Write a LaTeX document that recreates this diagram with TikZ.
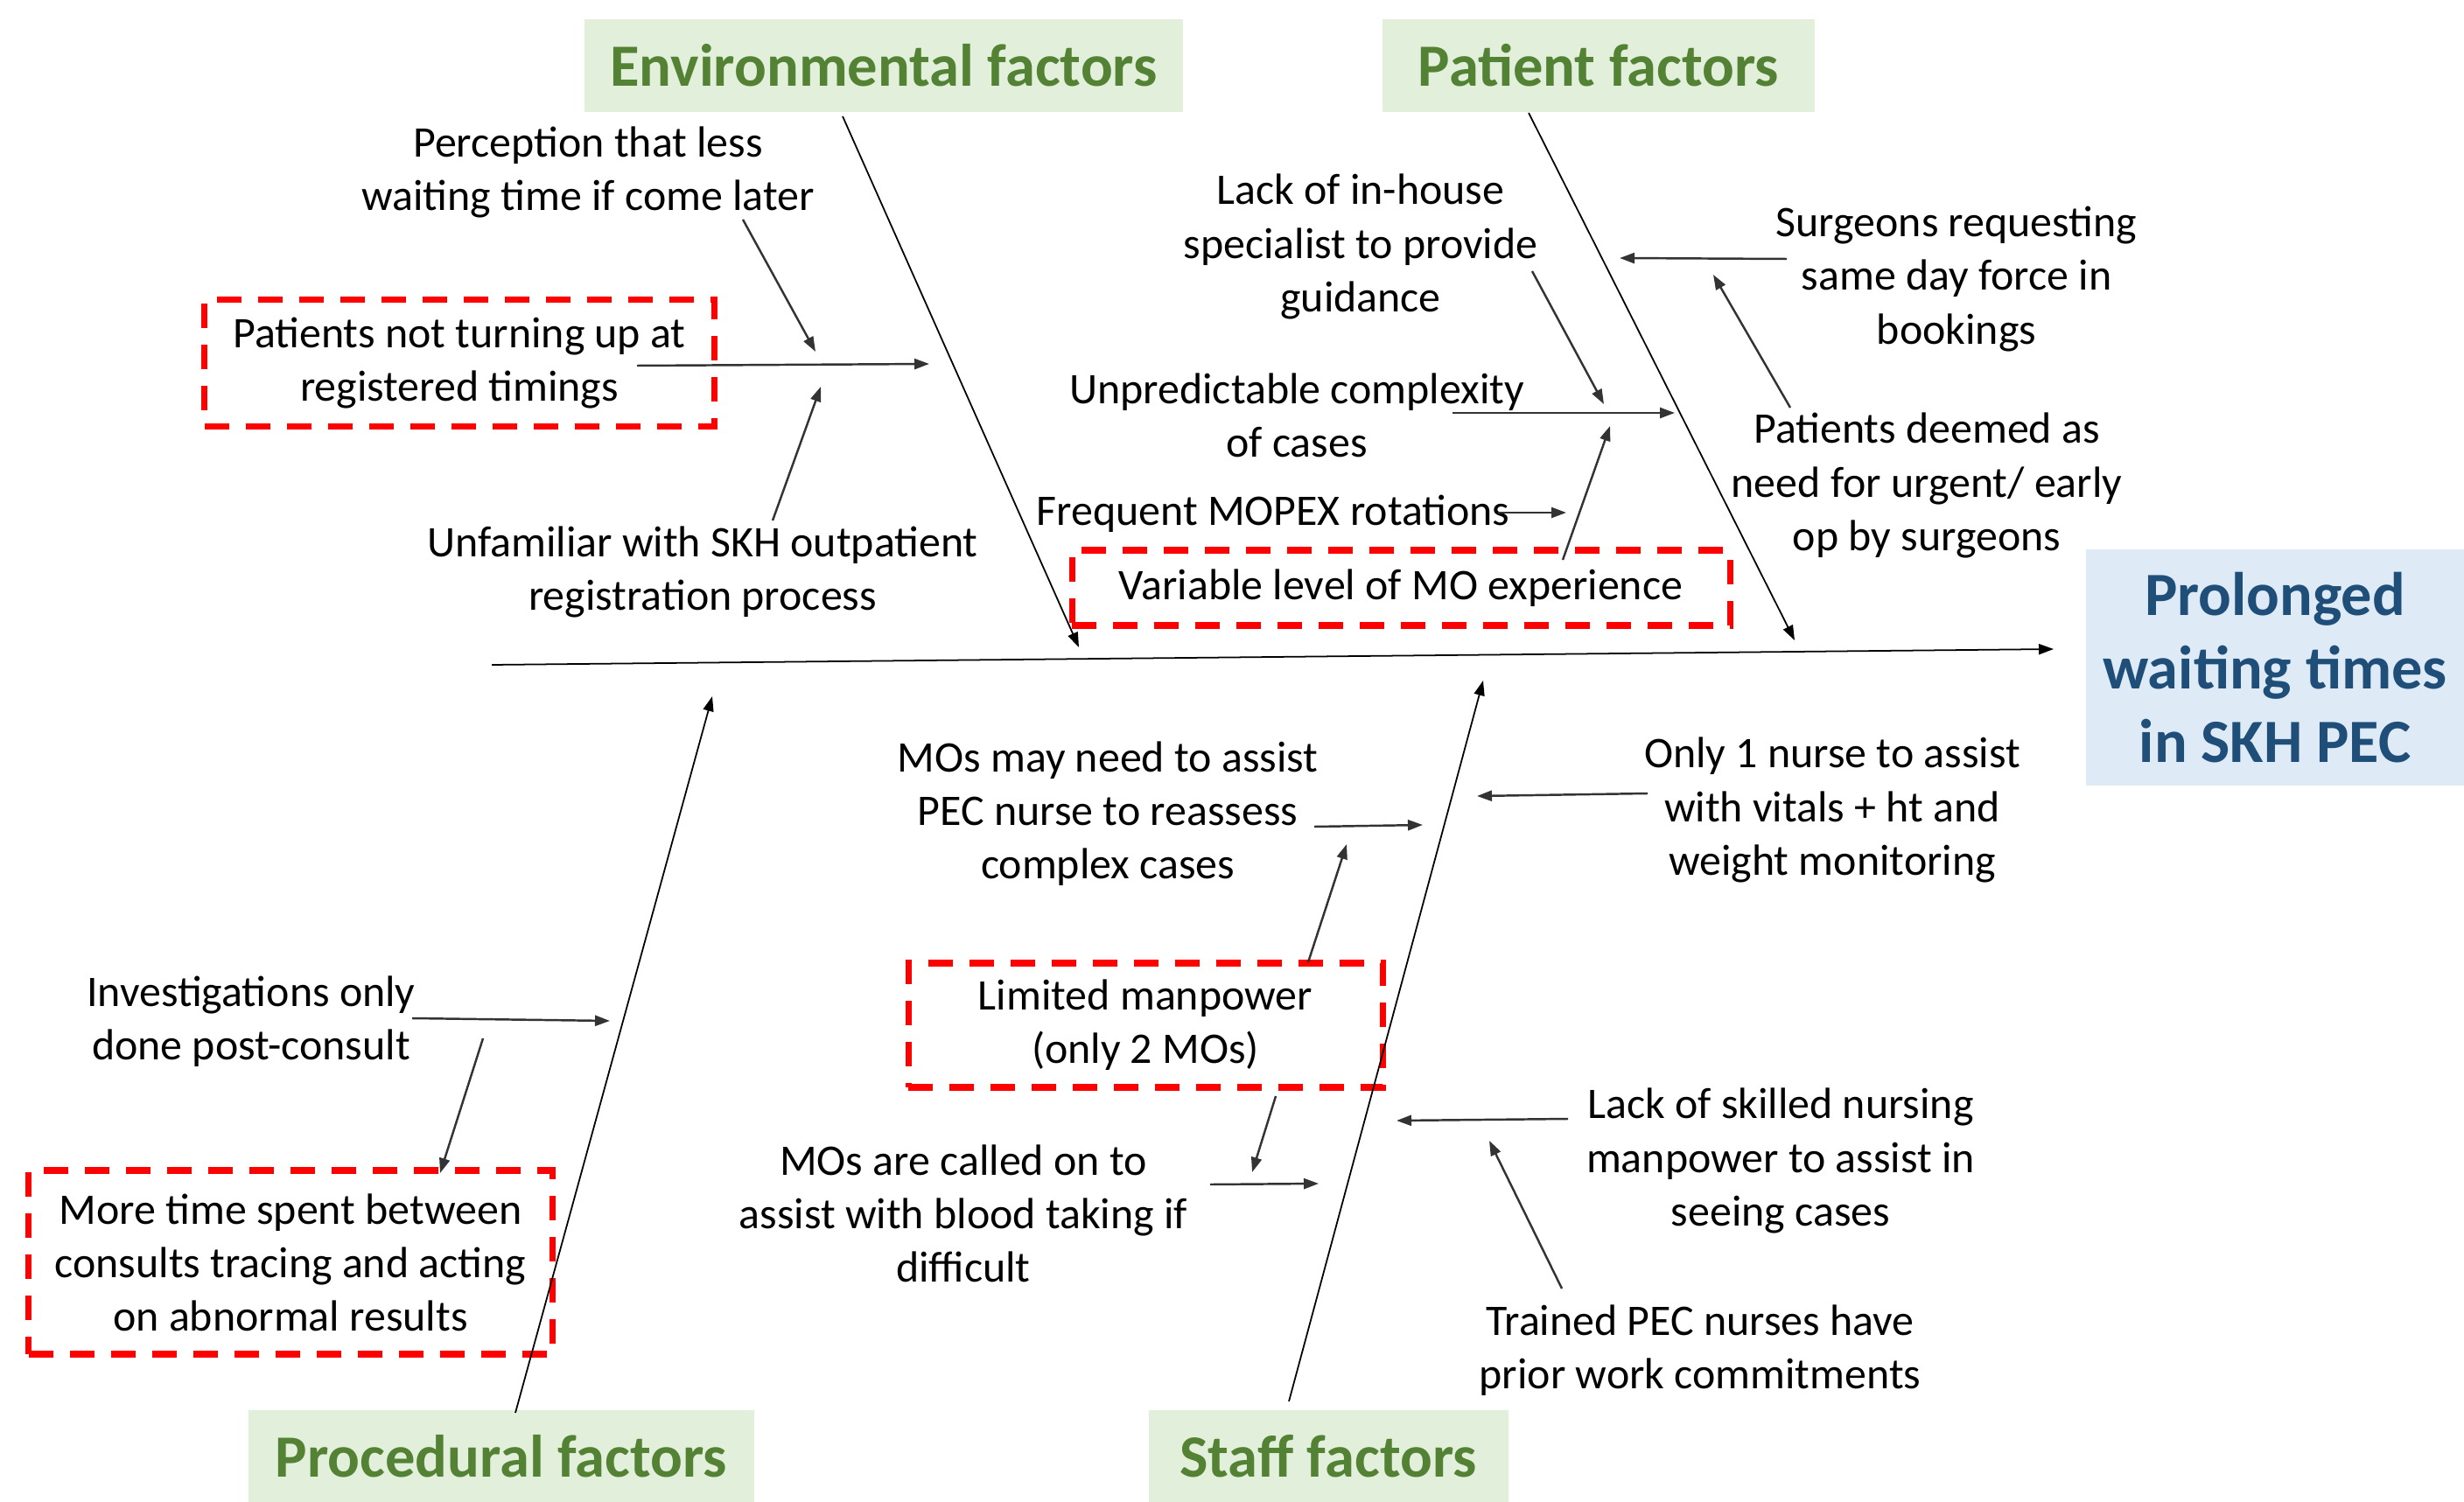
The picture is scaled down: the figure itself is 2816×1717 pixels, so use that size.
\documentclass[tikz,border=0pt]{standalone}
\usepackage{fontspec}
\setmainfont{Carlito}
\usetikzlibrary{arrows.meta}
\definecolor{hdrfill}{HTML}{E2EFDA}
\definecolor{hdrtext}{HTML}{548235}
\definecolor{efffill}{HTML}{DEEBF7}
\definecolor{efftext}{HTML}{1F4E79}
\tikzset{
  cause/.style={align=center, inner sep=0pt, font=\fontsize{14.2}{17.4}\selectfont},
  redbox/.style={cause, draw=red, line width=2pt, dash pattern=on 2.8mm off 1.9mm},
  hdr/.style={fill=hdrfill, text=hdrtext, inner sep=0pt, minimum height=10.6mm,
              font=\fontsize{19.5}{23}\selectfont\bfseries},
  effect/.style={fill=efffill, text=efftext, align=center, inner sep=0pt,
              minimum width=43.3mm, minimum height=27mm,
              font=\fontsize{20}{24}\selectfont\bfseries},
  bone/.style={line width=0.5pt, -{Triangle[length=1.7mm,width=1.2mm]}},
  sub/.style={line width=0.7pt, draw=black!80, -{Triangle[length=1.7mm,width=1.2mm]}},
}
\begin{document}
\begin{tikzpicture}[x=0.1mm, y=-0.1mm]
\useasboundingbox (0,0) rectangle (2816,1717);
% headers and effect
\node[hdr, minimum width=68.4mm] (envH) at (1010,75) {Environmental factors};
\node[hdr, minimum width=49.4mm] (patH) at (1827,75) {Patient factors};
\node[hdr, minimum width=57.8mm] (proH) at (573,1665) {Procedural factors};
\node[hdr, minimum width=41.1mm] (staH) at (1518,1665) {Staff factors};
\node[effect] (eff) at (2600,763) {Prolonged\\waiting times\\in SKH PEC};
% causes
\node[cause] (t1) at (672,197) {Perception that less\\waiting time if come later};
\node[redbox, minimum width=58.3mm, minimum height=14.5mm] (b1) at (525,415) {Patients not turning up at\\registered timings};
\node[cause] (t2) at (803,654) {Unfamiliar with SKH outpatient\\registration process};
\node[cause] (t3) at (1555,282) {Lack of in-house\\specialist to provide\\guidance};
\node[cause] (t4) at (2236,319) {Surgeons requesting\\same day force in\\bookings};
\node[cause] (t5) at (2202,555) {Patients deemed as\\need for urgent/ early\\op by surgeons};
\node[cause] (t6) at (1482,475) {Unpredictable complexity\\of cases};
\node[cause] (t7) at (1455,587) {Frequent MOPEX rotations};
\node[redbox, minimum width=75.2mm, minimum height=8.6mm] (b2) at (1601,672) {Variable level of MO experience};
\node[cause] (t8) at (287,1168) {Investigations only\\done post-consult};
\node[redbox, minimum width=59.9mm, minimum height=21mm] (b3) at (332,1443) {More time spent between\\consults tracing and acting\\on abnormal results};
\node[cause] (t9) at (1266,930) {MOs may need to assist\\PEC nurse to reassess\\complex cases};
\node[cause] (t10) at (2094,926) {Only 1 nurse to assist\\with vitals + ht and\\weight monitoring};
\node[redbox, minimum width=54.2mm, minimum height=14.2mm] (b4) at (1309,1172) {Limited manpower\\(only 2 MOs)};
\node[cause] (t11) at (1101,1387) {MOs are called on to\\assist with blood taking if\\difficult};
\node[cause] (t12) at (2035,1327) {Lack of skilled nursing\\manpower to assist in\\seeing cases};
\node[cause] (t13) at (1943,1544) {Trained PEC nurses have\\prior work commitments};
% connector ends
\coordinate (spS) at (562,760); \coordinate (spE) at (2347,742);
\coordinate (envS) at (963,133); \coordinate (envE) at (1233,740);
\coordinate (patS) at (1747,129); \coordinate (patE) at (2051,732);
\coordinate (proS) at (589,1615); \coordinate (proE) at (814,796);
\coordinate (staS) at (1473,1602); \coordinate (staE) at (1695,778);
\coordinate (a1s) at (849,251); \coordinate (a1e) at (932,402);
\coordinate (a2s) at (728,418); \coordinate (a2e) at (1062,416);
\coordinate (a3s) at (883,595); \coordinate (a3e) at (938,442);
\coordinate (a4s) at (1751,310); \coordinate (a4e) at (1833,462);
\coordinate (a5s) at (2042,296); \coordinate (a5e) at (1851,295);
\coordinate (a6s) at (2046,466); \coordinate (a6e) at (1958,314);
\coordinate (a7s) at (1660,472); \coordinate (a7e) at (1914,472);
\coordinate (a8s) at (1712,586); \coordinate (a8e) at (1790,586);
\coordinate (a9s) at (1786,640); \coordinate (a9e) at (1840,487);
\coordinate (a10s) at (471,1164); \coordinate (a10e) at (697,1167);
\coordinate (a11s) at (552,1187); \coordinate (a11e) at (503,1341);
\coordinate (a12s) at (1502,945); \coordinate (a12e) at (1626,943);
\coordinate (a13s) at (1883,907); \coordinate (a13e) at (1688,910);
\coordinate (a14s) at (1495,1100); \coordinate (a14e) at (1539,965);
\coordinate (a15s) at (1458,1253); \coordinate (a15e) at (1431,1340);
\coordinate (a16s) at (1383,1354); \coordinate (a16e) at (1507,1353);
\coordinate (a17s) at (1792,1279); \coordinate (a17e) at (1596,1281);
\coordinate (a18s) at (1785,1473); \coordinate (a18e) at (1702,1304);
% spine and bones
\draw[bone] (spS) -- (spE);
\draw[bone] (envS) -- (envE);
\draw[bone] (patS) -- (patE);
\draw[bone] (proS) -- (proE);
\draw[bone] (staS) -- (staE);
% sub-arrows
\foreach \i in {1,...,18} {\draw[sub] (a\i s) -- (a\i e);}
\end{tikzpicture}
\end{document}
